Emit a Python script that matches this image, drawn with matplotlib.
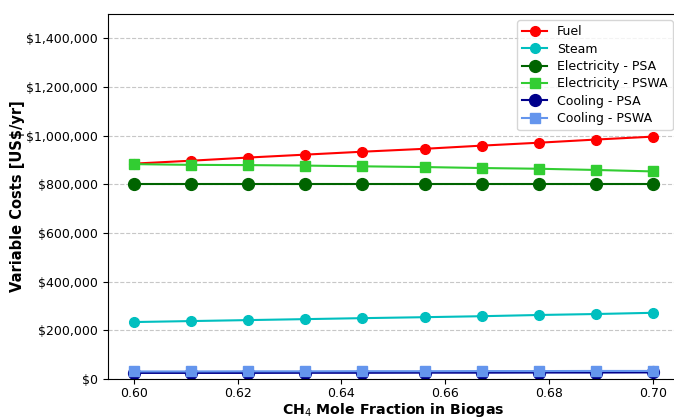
import numpy as np
import matplotlib
matplotlib.use("Agg")
import matplotlib.pyplot as plt
from matplotlib.ticker import FuncFormatter

# data
ch4_fraction = [0.600, 0.611, 0.622, 0.633, 0.644, 0.656, 0.667, 0.678, 0.689, 0.700]
fuel = [885000, 897000, 910000, 922000, 934000, 946000, 959000, 971000, 984000, 996000]
steam = [234000, 238000, 242000, 246000, 250000, 254000, 258000, 263000, 267000, 272000]
elec_psa = [800000] * 10
elec_pswa = [883000, 880000, 879000, 877000, 874000, 871000, 867000, 864000, 859000, 853000]
cooling_psa = [25000, 25000, 25000, 25500, 25500, 26000, 26000, 26500, 26500, 27000]
cooling_pswa = [31000, 31000, 31500, 31500, 32000, 32000, 32500, 32500, 33000, 33000]

fig = plt.figure(figsize=(6.74, 4.19), dpi=100)
ax = fig.add_axes([0.160, 0.0955, 0.8474, 0.8711])

ax.plot(ch4_fraction, fuel, "-o", color="red", markersize=7, label="Fuel")
ax.plot(ch4_fraction, steam, "-o", color="c", markersize=7, label="Steam")
ax.plot(ch4_fraction, elec_psa, "-o", color="darkgreen", markersize=8.5, label="Electricity - PSA")
ax.plot(ch4_fraction, elec_pswa, "-s", color="limegreen", markersize=6.5, label="Electricity - PSWA")
ax.plot(ch4_fraction, cooling_psa, "-o", color="darkblue", markersize=8.5, label="Cooling - PSA")
ax.plot(ch4_fraction, cooling_pswa, "-s", color="cornflowerblue", markersize=6.5, label="Cooling - PSWA")

ax.set_ylim(0, 1500000)
ax.set_yticks(np.arange(0, 1400001, 200000))
ax.yaxis.set_major_formatter(FuncFormatter(lambda v, p: f"${v:,.0f}"))
ax.tick_params(labelsize=9)
ax.tick_params(axis="x", pad=2.5)
ax.grid(axis="y", linestyle="--", alpha=0.7)

ax.set_xlabel("CH$_4$ Mole Fraction in Biogas", fontsize=10.2, fontweight="bold", labelpad=0.5)
ax.set_ylabel("Variable Costs [US$/yr]", fontsize=10.5, fontweight="bold", labelpad=1)
ax.legend(loc="upper right", fontsize=9, labelspacing=0.35)

fig.savefig("out.png", dpi=100)
